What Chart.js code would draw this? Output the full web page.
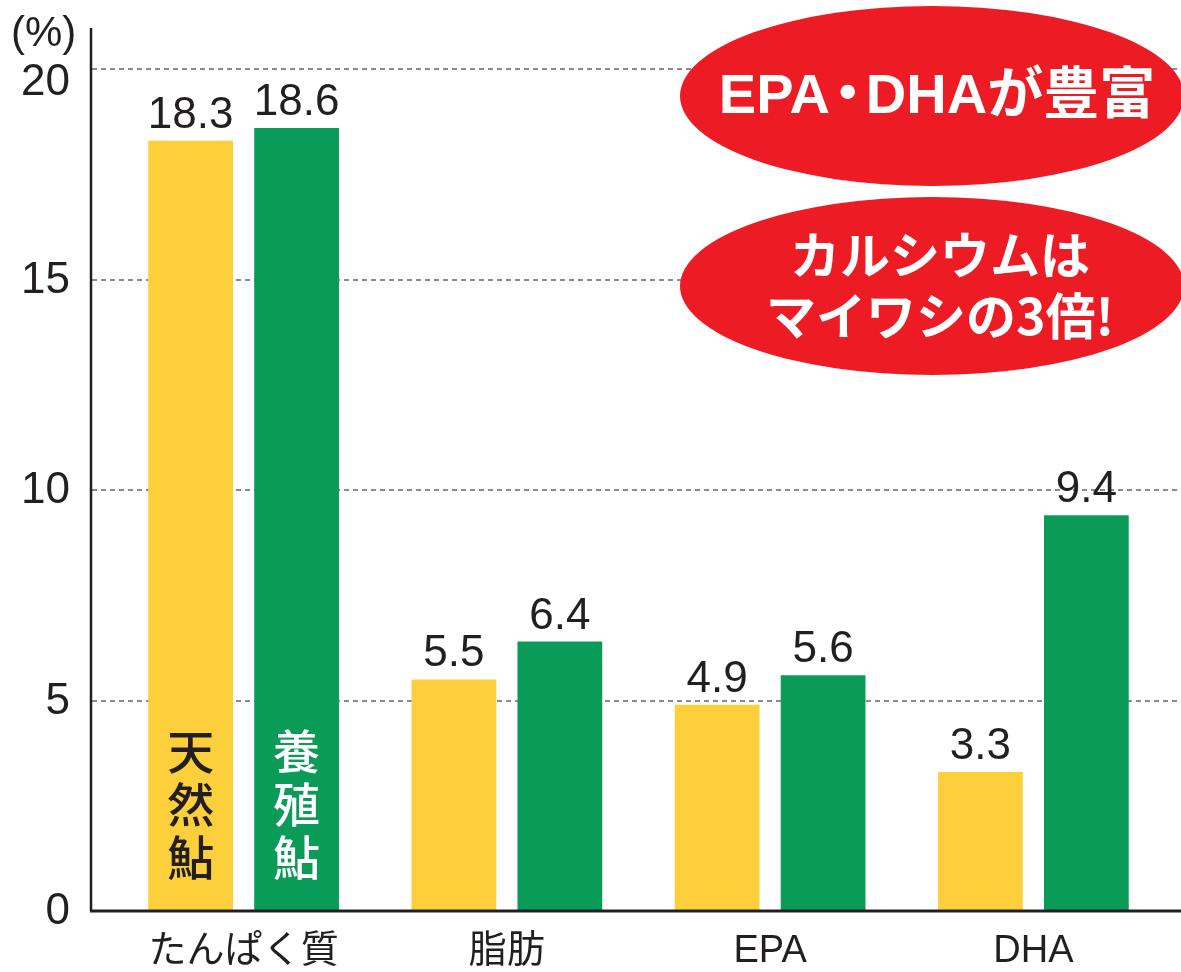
<!DOCTYPE html>
<html lang="ja">
<head>
<meta charset="utf-8">
<script src="https://cdn.jsdelivr.net/npm/chart.js@4/dist/chart.umd.min.js"></script>
<style>
  html, body { margin: 0; padding: 0; background: #fff; }
  #wrap { width: 1181px; height: 972px; }
</style>
</head>
<body>
<div id="wrap"><canvas id="chart" width="1181" height="972"></canvas></div>
<script>
const CATEGORIES = ["たんぱく質", "脂肪", "EPA", "DHA"];
const WILD = [18.3, 5.5, 4.9, 3.3];
const FARMED = [18.6, 6.4, 5.6, 9.4];
const WILD_LABEL = ["天", "然", "鮎"];
const FARMED_LABEL = ["養", "殖", "鮎"];
const TICK_VALUES = [0, 5, 10, 15, 20];
const TICK_LABELS = ["0", "5", "10", "15", "20"];
const UNIT_LABEL = "(%)";
const BUBBLE_TOP = ["EPA", "・", "DHAが豊富"];
const BUBBLE_BOTTOM = ["カルシウムは", "マイワシの3倍!"];

const INK = "#231F20";
const YELLOW = "#FDD03B";
const GREEN = "#0B9B58";
const RED = "#ED1C24";
const LATIN = '"Liberation Sans", "Noto Sans CJK JP", sans-serif';
const CJK = '"Noto Sans CJK JP", "Liberation Sans", sans-serif';

const decorations = {
  id: "decorations",
  beforeDatasetsDraw(chart) {
    const { ctx, scales: { y } } = chart;
    ctx.save();
    ctx.strokeStyle = "#8C8C8C";
    ctx.lineWidth = 2;
    ctx.setLineDash([5, 4]);
    TICK_VALUES.filter(v => v > 0).forEach(v => {
      const py = Math.round(y.getPixelForValue(v));
      ctx.beginPath();
      ctx.moveTo(92, py);
      ctx.lineTo(chart.width, py);
      ctx.stroke();
    });
    ctx.restore();
  },
  afterDatasetsDraw(chart) {
    const { ctx, chartArea, scales: { x, y } } = chart;
    const base = y.getPixelForValue(0);
    ctx.save();

    // axes
    ctx.strokeStyle = INK;
    ctx.lineWidth = 2.5;
    ctx.beginPath();
    ctx.moveTo(91, chartArea.top + 1);
    ctx.lineTo(91, base);
    ctx.stroke();
    ctx.lineWidth = 3;
    ctx.beginPath();
    ctx.moveTo(90, base);
    ctx.lineTo(chart.width, base);
    ctx.stroke();

    // y tick labels
    ctx.fillStyle = INK;
    ctx.font = `44px ${LATIN}`;
    ctx.textAlign = "right";
    ctx.textBaseline = "middle";
    TICK_VALUES.forEach((v, i) => {
      const shift = v === 20 ? 13 : 0;
      ctx.fillText(TICK_LABELS[i], 70, y.getPixelForValue(v) + shift + 1);
    });
    ctx.textAlign = "left";
    ctx.font = `42px ${LATIN}`;
    ctx.fillText(UNIT_LABEL, 11, 34);

    // x labels
    ctx.textAlign = "center";
    ctx.font = `38px ${LATIN}`;
    CATEGORIES.forEach((c, i) => ctx.fillText(c, x.getPixelForValue(i), 952));

    // value labels
    ctx.font = `44px ${LATIN}`;
    ctx.textBaseline = "alphabetic";
    chart.data.datasets.forEach((ds, di) => {
      chart.getDatasetMeta(di).data.forEach((bar, i) => {
        ctx.fillText(ds.data[i].toFixed(1), bar.x, bar.y - 13);
      });
    });

    // in-bar labels
    ctx.font = `500 47px ${CJK}`;
    ctx.textBaseline = "middle";
    const wildBar = chart.getDatasetMeta(0).data[0];
    const farmBar = chart.getDatasetMeta(1).data[0];
    ctx.fillStyle = INK;
    WILD_LABEL.forEach((ch, k) => ctx.fillText(ch, wildBar.x, 751 + k * 53));
    ctx.fillStyle = "#fff";
    FARMED_LABEL.forEach((ch, k) => ctx.fillText(ch, farmBar.x, 751 + k * 53));

    // bubbles
    ctx.fillStyle = RED;
    ctx.beginPath();
    ctx.ellipse(932, 96, 252, 90, 0, 0, Math.PI * 2);
    ctx.fill();
    ctx.beginPath();
    ctx.ellipse(932, 286, 252, 89, 0, 0, Math.PI * 2);
    ctx.fill();

    ctx.fillStyle = "#fff";
    ctx.font = `bold 56px ${LATIN}`;
    ctx.textAlign = "left";
    const gap = 36;
    const w0 = ctx.measureText(BUBBLE_TOP[0]).width;
    const w2 = ctx.measureText(BUBBLE_TOP[2]).width;
    const startX = 937 - (w0 + gap + w2) / 2;
    ctx.fillText(BUBBLE_TOP[0], startX, 98);
    ctx.fillText(BUBBLE_TOP[2], startX + w0 + gap, 98);
    ctx.textAlign = "center";
    ctx.fillText(BUBBLE_TOP[1], startX + w0 + gap / 2, 98);

    ctx.font = `bold 50px ${CJK}`;
    BUBBLE_BOTTOM.forEach((line, k) => ctx.fillText(line, 940, 255 + k * 61));

    ctx.restore();
  }
};

new Chart(document.getElementById("chart"), {
  type: "bar",
  data: {
    labels: CATEGORIES,
    datasets: [
      { label: "天然鮎", data: WILD, backgroundColor: YELLOW, borderWidth: 0 },
      { label: "養殖鮎", data: FARMED, backgroundColor: GREEN, borderWidth: 0 }
    ]
  },
  options: {
    responsive: false,
    animation: false,
    devicePixelRatio: 1,
    layout: { padding: { left: 112, right: 16, top: 27, bottom: 61 } },
    categoryPercentage: 0.805,
    barPercentage: 0.8,
    plugins: { legend: { display: false }, tooltip: { enabled: false } },
    scales: {
      x: { display: false },
      y: { display: false, min: 0, max: 21 }
    }
  },
  plugins: [decorations]
});
</script>
</body>
</html>
